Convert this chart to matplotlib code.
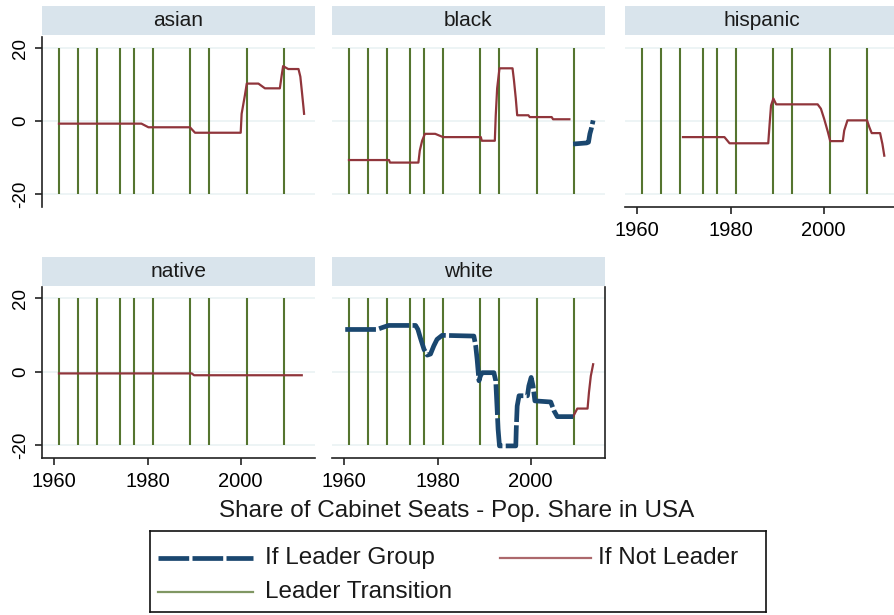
import matplotlib
matplotlib.use("Agg")
import matplotlib.pyplot as plt
from matplotlib.lines import Line2D

plt.rcParams['font.family'] = ['Liberation Sans', 'DejaVu Sans']

# leader transitions (vertical lines)
transitions = [1961.0, 1965.1, 1969.1, 1974.0, 1977.0, 1981.1, 1989.1, 1993.1, 2001.3, 2009.2]

# asian - not leader
asian_yr = [1961.0, 1978.7, 1980.2, 1989.1, 1990.2, 2000.0, 2000.2, 2000.9, 2001.3, 2003.8,
            2005.2, 2008.4, 2008.8, 2009.1, 2010.2, 2012.4, 2012.8, 2013.1, 2013.5, 2013.6]
asian_val = [-0.7, -0.7, -1.7, -1.7, -3.2, -3.2, 2.0, 7.1, 10.3, 10.3,
             9.0, 9.0, 12.6, 15.1, 14.3, 14.3, 12.2, 8.5, 3.4, 2.0]

# black - not leader / leader
black_yr = [1961.0, 1969.6, 1969.8, 1975.9, 1976.2, 1976.7, 1977.3, 1979.5, 1981.2, 1989.3,
            1989.5, 1992.3, 1992.5, 1992.8, 1993.3, 1996.1, 1996.4, 1996.8, 1997.1, 1999.5,
            1999.8, 2004.5, 2004.8, 2008.3]
black_val = [-10.7, -10.7, -11.4, -11.4, -8.1, -5.4, -3.5, -3.5, -4.4, -4.4,
             -5.4, -5.4, 1.6, 9.0, 14.5, 14.5, 11.3, 6.2, 1.6, 1.6,
             1.1, 1.1, 0.5, 0.5]
black_lead_yr = [2009.1, 2012.0, 2012.4, 2012.7, 2013.0, 2013.4]
black_lead_val = [-6.3, -6.0, -5.8, -3.5, -2.1, 0.2]

# hispanic - not leader
hisp_yr = [1969.8, 1978.7, 1979.8, 1988.1, 1988.4, 1988.7, 1989.2, 1989.8, 1998.7, 1999.4,
           2000.1, 2000.9, 2001.4, 2004.1, 2004.4, 2005.1, 2009.3, 2009.8, 2010.3, 2012.1,
           2012.6, 2013.0]
hisp_val = [-4.4, -4.4, -6.1, -6.1, -0.7, 4.3, 6.2, 4.6, 4.6, 3.4,
            0.6, -3.0, -5.5, -5.5, -2.6, 0.2, 0.2, -1.7, -3.3, -3.3,
            -6.3, -9.5]

# native - not leader
native_yr = [1961.0, 1989.5, 1990.0, 2013.1]
native_val = [-0.5, -0.5, -1.0, -1.0]

# white - leader / not leader
white_lead_yr = [1960.2, 1967.0, 1968.1, 1969.5, 1975.3, 1975.8, 1976.3, 1977.1, 1977.8, 1978.5,
                 1979.2, 1979.9, 1981.0, 1987.8, 1988.2, 1988.5, 1988.9, 1989.2, 1989.6, 1992.1,
                 1992.5, 1992.8, 1993.0, 1993.3, 1996.8, 1996.9, 1997.1, 1997.5, 1999.3, 1999.6,
                 2000.1, 2000.5, 2000.9, 2004.3, 2005.0, 2005.7, 2009.1]
white_lead_val = [11.5, 11.5, 12.0, 12.6, 12.6, 11.5, 9.3, 6.1, 4.5, 4.8,
                  7.0, 8.8, 9.9, 9.7, 7.0, 3.4, -2.5, -1.2, -0.3, -0.3,
                  -2.5, -10.3, -15.7, -20.3, -20.3, -15.7, -9.4, -6.6, -6.6, -3.9,
                  -1.6, -3.9, -8.0, -8.3, -10.7, -12.3, -12.3]
white_yr = [2009.1, 2010.0, 2012.2, 2012.5, 2012.9, 2013.4]
white_val = [-12.3, -10.1, -10.1, -5.7, -1.2, 2.0]

BLUE = '#1A476F'
RED = '#90353B'
GREEN = '#55752F'
STRIP = '#D9E4EC'
GRID = '#EAF2F3'

W, H = 895, 615
fig = plt.figure(figsize=(W / 100, H / 100), dpi=100)


def px_axes(x0, y0, x1, y1):
    return fig.add_axes([x0 / W, 1 - y1 / H, (x1 - x0) / W, (y1 - y0) / H])


# name, left px, top row?, red series, blue series, spines shown
panels = [
    ("asian", 42, True, (asian_yr, asian_val), None, ['left']),
    ("black", 332, True, (black_yr, black_val), (black_lead_yr, black_lead_val), []),
    ("hispanic", 625, True, (hisp_yr, hisp_val), None, ['bottom']),
    ("native", 42, False, (native_yr, native_val), None, ['left', 'bottom']),
    ("white", 332, False, (white_yr, white_val), (white_lead_yr, white_lead_val), ['bottom', 'right']),
]

pw = 273
for name, x0, top, red, blue, spines in panels:
    if top:
        sy0, sy1, ay0, ay1 = 6, 35, 37, 207
    else:
        sy0, sy1, ay0, ay1 = 257, 286, 287, 458
    # strip
    sax = px_axes(x0, sy0, x0 + pw, sy1)
    sax.set_facecolor(STRIP)
    sax.set_xticks([])
    sax.set_yticks([])
    for s in sax.spines.values():
        s.set_visible(False)
    sax.text(0.5, 0.5, name, ha='center', va='center', fontsize=15, color='#1a1a1a')

    ax = px_axes(x0, ay0, x0 + pw, ay1)
    ax.set_xlim(1957.36, 1957.36 + pw / 4.66)
    ax.set_ylim(-23.6, 23.1)
    for y in [-20, 0, 20]:
        ax.axhline(y, color=GRID, lw=1.2, zorder=0)
    ax.vlines(transitions, -20, 20, color=GREEN, lw=1.5, zorder=1)
    ax.plot(red[0], red[1], color=RED, lw=1.6, zorder=2)
    if blue is not None:
        ax.plot(blue[0], blue[1], color=BLUE, lw=3.4, dashes=(6.5, 0.7), zorder=3)

    for side in ['left', 'right', 'top', 'bottom']:
        ax.spines[side].set_visible(side in spines)
        ax.spines[side].set_color('#222222')
        ax.spines[side].set_linewidth(1.2)
    if 'left' in spines:
        ax.set_yticks([-20, 0, 20])
        ax.set_yticklabels(['-20', '0', '20'], rotation=90, va='center', fontsize=13.5)
        ax.tick_params(axis='y', length=5, width=1.2, pad=4, color='#222222')
    else:
        ax.set_yticks([])
    if 'bottom' in spines:
        ax.set_xticks([1960, 1980, 2000])
        ax.tick_params(axis='x', length=5, width=1.2, pad=5, labelsize=14.5, color='#222222')
    else:
        ax.set_xticks([])

fig.text(457 / W, 1 - 511 / H, "Share of Cabinet Seats - Pop. Share in USA",
         ha='center', va='center', fontsize=17.5, color='#1a1a1a')

# legend box
lax = px_axes(150, 531, 766, 612)
lax.set_xlim(150, 766)
lax.set_ylim(612, 531)
lax.set_xticks([])
lax.set_yticks([])
for s in lax.spines.values():
    s.set_color('#111111')
    s.set_linewidth(1.2)
lax.add_line(Line2D([158, 253], [558, 558], color=BLUE, lw=3.4, dashes=(6.5, 0.7)))
lax.text(265, 558, "If Leader Group", va='center', fontsize=17.5, color='#1a1a1a')
lax.add_line(Line2D([500, 591], [558, 558], color=RED, lw=1.6, alpha=0.75))
lax.text(598, 558, "If Not Leader", va='center', fontsize=17.5, color='#1a1a1a')
lax.add_line(Line2D([158, 253], [592, 592], color=GREEN, lw=1.6, alpha=0.75))
lax.text(265, 592, "Leader Transition", va='center', fontsize=17.5, color='#1a1a1a')

fig.savefig("out.png", dpi=100)
